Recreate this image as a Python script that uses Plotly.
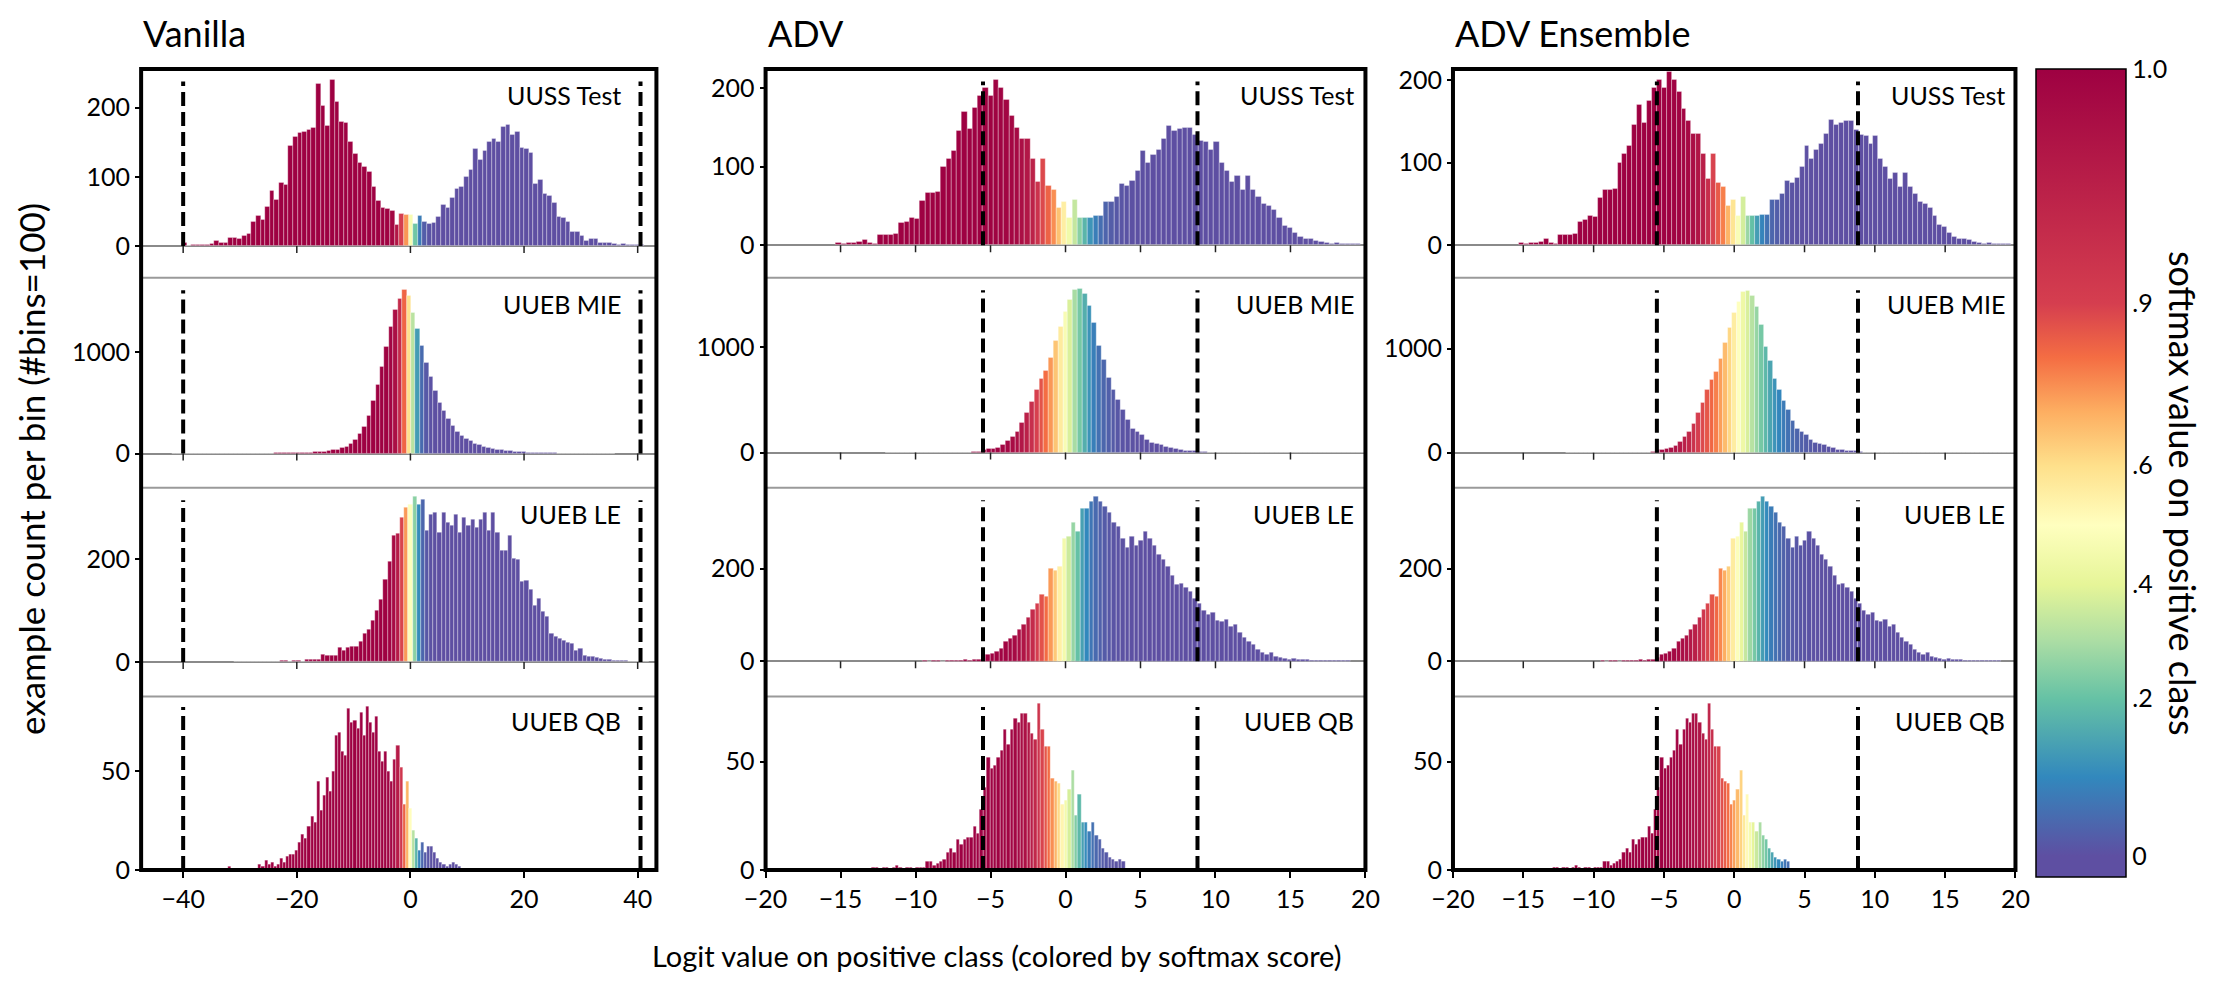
import numpy as np
import plotly.graph_objects as go
from plotly.subplots import make_subplots

# ---------------- data ----------------
col_titles = ["Vanilla", "ADV", "ADV Ensemble"]
panel_names = ["UUSS Test", "UUEB MIE", "UUEB LE", "UUEB QB"]

# Vanilla
van_uuss_start, van_uuss_width = -40.2, 0.814
van_uuss_counts = [4,0,1,2,1,2,3,7,4,4,
 11,12,10,15,18,35,44,38,56,80,
 67,91,88,145,157,163,165,168,170,235,
 203,173,240,208,180,178,150,133,120,115,
 107,85,65,55,53,50,30,47,45,45,
 32,43,35,32,34,42,60,55,70,82,
 85,100,110,140,125,137,150,155,150,172,
 175,160,165,142,140,135,90,95,75,72,
 62,42,40,35,20,20,15,8,10,10,
 5,4,5,3,2,3,1,2,1,1]

van_mie_start, van_mie_width = -42.0, 0.78
van_mie_counts = [0,0,0,0,0,0,0,0,0,0,
 0,0,1,1,1,2,1,2,2,2,
 3,3,3,4,5,5,6,7,8,9,
 10,12,14,18,22,27,33,42,55,72,
 100,140,200,260,370,520,680,860,1050,1250,
 1420,1530,1620,1560,1390,1230,1060,900,760,620,
 500,420,340,270,220,180,150,125,100,85,
 72,60,50,42,35,30,25,20,17,14,
 11,9,8,6,5,4,4,3,3,2,
 2,2,1,1,1,1,0,1,0,0]

van_le_start, van_le_width = -31.0, 0.73
van_le_counts = [1,0,1,0,1,0,1,1,0,1,
 1,2,2,1,2,2,1,4,4,5,
 4,15,13,12,12,28,22,28,29,30,
 40,55,62,80,100,120,160,195,245,248,
 280,300,305,320,305,315,255,285,290,250,
 290,270,265,285,250,280,265,275,260,275,
 290,255,290,250,215,215,245,200,198,155,
 158,140,110,122,98,88,55,50,45,42,
 38,35,22,25,12,11,10,8,6,5,
 4,3,3,2,2,1,1,1,0,1]

van_qb_start, van_qb_width = -37.0, 0.54
van_qb_counts = [0,1,1,0,0,0,0,0,0,2,
 0,1,1,0,1,1,1,0,1,3,
 2,5,3,4,2,3,6,4,7,8,
 8,10,14,18,16,22,27,24,45,30,
 38,47,40,50,68,70,60,58,82,75,
 76,72,80,68,83,75,70,78,60,55,
 60,50,45,56,63,52,33,45,31,20,
 16,10,14,9,12,12,9,6,4,3,
 2,3,4,3,2,1,1,0,0,0,
 0,0,1,0,0,0,0,0,0,0]

# ADV
adv_uuss_start, adv_uuss_width = -15.3, 0.35
adv_uuss_counts = [3,2,3,3,4,7,3,2,13,13,
 13,14,28,30,35,34,57,67,67,68,
 100,110,120,145,170,148,175,190,200,190,
 210,200,185,165,150,135,135,110,80,110,
 75,70,47,55,35,58,35,35,35,37,
 37,55,55,62,78,75,82,95,120,105,
 115,122,135,152,145,148,150,150,140,133,
 132,122,132,105,95,80,88,70,88,70,
 62,52,50,45,35,24,22,15,10,8,
 8,6,4,3,2,3,1,2,1,1]

adv_mie_start, adv_mie_width = -12.0, 0.32
adv_mie_counts = [1,1,1,1,1,1,1,2,1,2,
 2,2,2,2,3,3,3,3,4,5,
 28,32,38,45,70,110,150,200,280,380,
 480,600,700,780,900,1060,1200,1340,1450,1545,
 1560,1510,1400,1230,1020,880,710,600,500,410,
 310,230,200,170,125,98,82,75,60,48,
 32,26,22,20,22,8,4,3,3,3,
 2,2,2,2,2,1,1,1,1,1,
 1,1,0,1,1,0,1,1,0,1,
 0,1,0,1,0,1,0,0,1,0]

adv_le_start, adv_le_width = -9.5, 0.30
adv_le_counts = [1,0,1,1,0,1,1,2,1,3,
 2,3,4,8,15,17,20,28,42,48,
 55,68,80,95,112,125,145,140,200,195,
 205,265,270,300,280,330,330,345,355,345,
 335,320,300,290,265,245,270,250,260,280,
 265,250,230,220,205,185,165,168,160,150,
 135,125,110,100,105,88,85,90,75,80,
 62,52,42,35,25,18,15,18,10,8,
 5,4,5,3,3,4,2,2,1,1,
 1,1,1,1,1]

adv_qb_start, adv_qb_width = -12.9, 0.225
adv_qb_counts = [1,1,0,1,1,0,1,2,1,0,
 1,1,0,1,1,1,4,4,2,3,
 4,5,8,10,8,14,12,14,15,15,
 20,17,28,38,52,47,48,52,55,65,
 58,65,70,68,72,72,68,63,60,77,
 65,57,57,42,41,40,30,32,37,46,
 25,35,22,22,18,22,16,14,10,8,
 6,5,4,5,4]

# ADV Ensemble (same example counts as ADV, different softmax colouring)
ens_uuss_start, ens_uuss_width, ens_uuss_counts = adv_uuss_start, adv_uuss_width, list(adv_uuss_counts)
ens_mie_start, ens_mie_width, ens_mie_counts = adv_mie_start, adv_mie_width, list(adv_mie_counts)
ens_le_start, ens_le_width, ens_le_counts = adv_le_start, adv_le_width, list(adv_le_counts)
ens_qb_start, ens_qb_width, ens_qb_counts = adv_qb_start, adv_qb_width, list(adv_qb_counts)

# softmax colouring parameters (logit centre, temperature) per panel
van_soft = [(0.0, 0.7), (0.0, 0.7), (0.0, 0.7), (0.0, 0.7)]
adv_soft = [(0.1, 0.8), (-0.1, 0.85), (-0.2, 0.75), (-0.1, 0.7)]
ens_soft = [(0.2, 0.8), (0.3, 1.3), (0.2, 1.0), (1.0, 1.0)]

# dashed thresholds per column
thresholds = [(-40.0, 40.5), (-5.5, 8.8), (-5.5, 8.8)]

# axis settings
x_ranges = [(-47.4, 43.3), (-20, 20), (-20, 20)]
x_ticks = [[-40, -20, 0, 20, 40], [-20, -15, -10, -5, 0, 5, 10, 15, 20], [-20, -15, -10, -5, 0, 5, 10, 15, 20]]
y_ranges = [
    [(-46, 256), (-336, 1736), (-67, 338), (0, 88)],
    [(-41.6, 224.6), (-333, 1662), (-76, 375), (0, 80)],
    [(-39.5, 213.4), (-335, 1680), (-76, 375), (0, 80)],
]
y_ticks = [[0, 100, 200], [0, 1000], [0, 200], [0, 50]]

cbar_vals = [0, 0.2, 0.4, 0.6, 0.9, 1.0]
cbar_text = ["0", ".2", ".4", ".6", ".9", "1.0"]
cbar_pos = [0.026, 0.221, 0.362, 0.509, 0.71, 1.0]

SPECTRAL = ['#9e0142', '#d53e4f', '#f46d43', '#fdae61', '#fee08b', '#ffffbf',
            '#e6f598', '#abdda4', '#66c2a5', '#3288bd', '#5e4fa2']

# --------------- figure ---------------
W, H = 2228, 981
col_px = [(113, 637), (748, 1358), (1447, 2019)]
row_px = [(57, 270), (270, 484), (484, 697), (697, 874)]
FONT = "Lato"

panels = [
    [(van_uuss_start, van_uuss_width, van_uuss_counts), (van_mie_start, van_mie_width, van_mie_counts),
     (van_le_start, van_le_width, van_le_counts), (van_qb_start, van_qb_width, van_qb_counts)],
    [(adv_uuss_start, adv_uuss_width, adv_uuss_counts), (adv_mie_start, adv_mie_width, adv_mie_counts),
     (adv_le_start, adv_le_width, adv_le_counts), (adv_qb_start, adv_qb_width, adv_qb_counts)],
    [(ens_uuss_start, ens_uuss_width, ens_uuss_counts), (ens_mie_start, ens_mie_width, ens_mie_counts),
     (ens_le_start, ens_le_width, ens_le_counts), (ens_qb_start, ens_qb_width, ens_qb_counts)],
]
softs = [van_soft, adv_soft, ens_soft]

bar_scale = [[k / 10, SPECTRAL[10 - k]] for k in range(11)]
cb_scale = [[0.0, SPECTRAL[10]]]
for k in range(11):
    p = float(np.interp(k / 10, cbar_vals, cbar_pos))
    cb_scale.append([p, SPECTRAL[10 - k]])


def ax_id(n):
    return '' if n == 1 else str(n)


fig = make_subplots(rows=4, cols=3)

shapes = []
annotations = []
for c in range(3):
    for r in range(4):
        n = r * 3 + c + 1
        sid = ax_id(n)
        start, width, counts = panels[c][r]
        counts = np.array(counts, dtype=float)
        centers = start + width * (np.arange(len(counts)) + 0.5)
        mu, T = softs[c][r]
        s = 1.0 / (1.0 + np.exp((centers - mu) / T))
        fig.add_trace(go.Bar(
            x=centers, y=counts, width=width,
            marker=dict(color=s, colorscale=bar_scale, cmin=0, cmax=1,
                        line=dict(color='rgba(255,255,255,0.45)', width=0.7)),
            showlegend=False, hoverinfo='skip'), row=r + 1, col=c + 1)
        xd = [col_px[c][0] / W, col_px[c][1] / W]
        yd = [1 - row_px[r][1] / H, 1 - row_px[r][0] / H]
        xa = 'xaxis' + sid
        ya = 'yaxis' + sid
        bottom = (r == 3)
        fig.layout[xa].update(domain=xd, range=list(x_ranges[c]), showgrid=False, zeroline=False,
                              showline=False, tickvals=x_ticks[c],
                              ticks='outside' if bottom else '', ticklen=7, tickwidth=2, tickcolor='black',
                              showticklabels=bottom, tickfont=dict(family=FONT, size=25, color='black'))
        fig.layout[ya].update(domain=yd, range=list(y_ranges[c][r]), showgrid=False,
                              zeroline=not bottom, zerolinecolor='#8a8a8a', zerolinewidth=2,
                              showline=False, tickvals=y_ticks[r], ticks='outside', ticklen=5,
                              tickwidth=1.5, tickcolor='black',
                              tickfont=dict(family=FONT, size=25, color='black'))
        # small tick marks on the zero line for the upper panels
        if not bottom:
            for t in x_ticks[c]:
                if x_ranges[c][0] < t < x_ranges[c][1]:
                    shapes.append(dict(type='line', xref='x' + sid, yref='y' + sid, x0=t, x1=t,
                                       ysizemode='pixel', yanchor=0, y0=0, y1=-7,
                                       line=dict(color='#222', width=1.5)))
        # dashed thresholds
        ymin, ymax = y_ranges[c][r]
        zf = -ymin / (ymax - ymin)
        for th in thresholds[c]:
            shapes.append(dict(type='line', xref='x' + sid, yref='y' + sid + ' domain', x0=th, x1=th,
                               y0=zf, y1=0.94, line=dict(color='black', width=4, dash='14px,6px')))
        # panel label
        annotations.append(dict(text=panel_names[r], xref='x' + sid + ' domain', yref='y' + sid + ' domain',
                                x=0.935 if c == 0 else 0.985, y=0.955, xanchor='right', yanchor='top',
                                showarrow=False, font=dict(family=FONT, size=25, color='black')))
    # column box + separators
    x0, x1 = col_px[c][0] / W, col_px[c][1] / W
    for r in range(3):
        yy = 1 - row_px[r][1] / H
        shapes.append(dict(type='line', xref='paper', yref='paper', x0=x0, x1=x1, y0=yy, y1=yy,
                           line=dict(color='#9a9a9a', width=2)))
    shapes.append(dict(type='rect', xref='paper', yref='paper', x0=x0, x1=x1,
                       y0=1 - row_px[3][1] / H, y1=1 - row_px[0][0] / H,
                       line=dict(color='black', width=4)))
    annotations.append(dict(text=col_titles[c], xref='paper', yref='paper', x=x0, y=1 - 20 / H,
                            xanchor='left', yanchor='middle', showarrow=False,
                            font=dict(family=FONT, size=36, color='black')))

annotations.append(dict(text="example count per bin (#bins=100)", xref='paper', yref='paper',
                        x=0, y=1 - 465 / H, textangle=-90, showarrow=False, xshift=-22,
                        xanchor='left', yanchor='middle', font=dict(family=FONT, size=35, color='black')))
annotations.append(dict(text="Logit value on positive class (colored by softmax score)", xref='paper',
                        yref='paper', x=983 / W, y=1 - 961 / H, showarrow=False, xanchor='center',
                        yanchor='middle', font=dict(family=FONT, size=29, color='black')))
annotations.append(dict(text="softmax value on positive class", xref='paper', yref='paper',
                        x=2190 / W, y=1 - 490 / H, textangle=90, showarrow=False, xanchor='center',
                        yanchor='middle', font=dict(family=FONT, size=36, color='black')))

# colour bar (nonuniform tick spacing as in the original)
fig.add_trace(go.Scatter(x=[None], y=[None], mode='markers', showlegend=False, hoverinfo='skip',
                         marker=dict(color=[0.5], colorscale=cb_scale, cmin=0, cmax=1, showscale=True,
                                     colorbar=dict(x=2040 / W, xanchor='left', xref='paper',
                                                   y=1 - 57 / H, yanchor='top', yref='paper',
                                                   len=(881 - 57) / H, lenmode='fraction',
                                                   thickness=90, thicknessmode='pixels',
                                                   outlinecolor='black', outlinewidth=1.5,
                                                   tickvals=cbar_pos, ticktext=cbar_text,
                                                   ticks='', tickfont=dict(family=FONT, size=25, color='black'),
                                                   xpad=0, ypad=0))), row=1, col=1)

fig.update_layout(width=W, height=H, margin=dict(l=0, r=0, t=0, b=0),
                  paper_bgcolor='white', plot_bgcolor='white', bargap=0,
                  shapes=shapes, annotations=annotations, font=dict(family=FONT))

fig.write_html("out.html")
